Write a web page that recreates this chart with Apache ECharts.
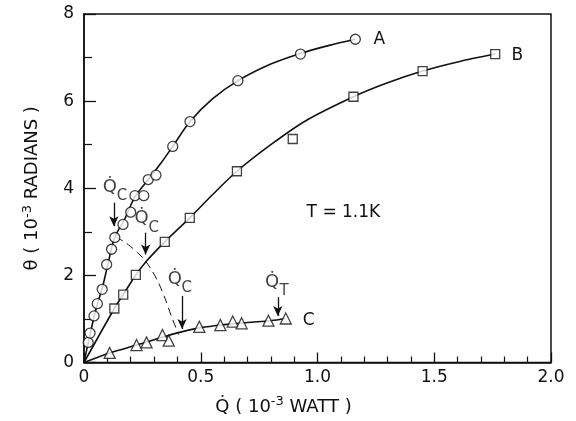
<!DOCTYPE html>
<html>
<head>
<meta charset="utf-8">
<script src="https://cdn.jsdelivr.net/npm/echarts@6/dist/echarts.min.js"></script>
<style>
  html, body { margin: 0; padding: 0; background: #fff; }
  #main { width: 576px; height: 421px; }
</style>
</head>
<body>
<div id="main"></div>
<script>
// measured points (Q in 1e-3 W, theta in 1e-3 rad)
var aQ = [0.018, 0.026, 0.043, 0.057, 0.078, 0.097, 0.118, 0.132, 0.167, 0.2, 0.218, 0.256, 0.275, 0.308, 0.38, 0.454, 0.659, 0.927, 1.162];
var aTheta = [0.46, 0.675, 1.07, 1.35, 1.68, 2.25, 2.6, 2.87, 3.17, 3.45, 3.83, 3.83, 4.2, 4.3, 4.96, 5.53, 6.47, 7.08, 7.42];
var bQ = [0.13, 0.168, 0.222, 0.346, 0.453, 0.655, 0.894, 1.154, 1.45, 1.761];
var bTheta = [1.24, 1.56, 2.01, 2.77, 3.32, 4.39, 5.13, 6.1, 6.69, 7.08];
var cQ = [0.11, 0.225, 0.268, 0.336, 0.363, 0.494, 0.584, 0.637, 0.675, 0.79, 0.864];
var cTheta = [0.22, 0.4, 0.46, 0.63, 0.5, 0.82, 0.86, 0.94, 0.9, 0.96, 1.01];

// hand drawn curves through the points
var curveAQ = [0, 0.02, 0.05, 0.08, 0.1, 0.13, 0.175, 0.218, 0.275, 0.33, 0.38, 0.454, 0.55, 0.66, 0.8, 0.93, 1.05, 1.162];
var curveATheta = [0, 0.5, 1.2, 1.75, 2.2, 2.85, 3.3, 3.8, 4.2, 4.58, 4.96, 5.53, 6.05, 6.47, 6.85, 7.1, 7.28, 7.42];
var curveBQ = [0, 0.13, 0.168, 0.222, 0.268, 0.346, 0.453, 0.55, 0.655, 0.8, 0.95, 1.154, 1.3, 1.45, 1.6, 1.761];
var curveBTheta = [0, 1.24, 1.56, 2.01, 2.33, 2.77, 3.32, 3.85, 4.39, 5.0, 5.55, 6.1, 6.42, 6.69, 6.9, 7.08];
var curveCQ = [0, 0.11, 0.225, 0.3, 0.4, 0.5, 0.6, 0.7, 0.8, 0.864];
var curveCTheta = [0, 0.22, 0.4, 0.52, 0.68, 0.8, 0.87, 0.92, 0.96, 1.01];
var dashQ = [0.135, 0.17, 0.2, 0.23, 0.26, 0.29, 0.32, 0.35, 0.375, 0.395, 0.405];
var dashTheta = [2.88, 2.78, 2.66, 2.52, 2.35, 2.12, 1.82, 1.43, 1.05, 0.78, 0.64];

// annotation arrows: x, from, to
var arrowQ = [0.128, 0.264, 0.42, 0.83];
var arrowFrom = [3.67, 2.98, 1.53, 1.5];
var arrowTo = [3.13, 2.48, 0.77, 1.07];
// Q-dot labels (centre of the Q) and their subscripts
var noteQ = [0.111, 0.247, 0.389, 0.806];
var noteTheta = [4.02, 3.30, 1.91, 1.835];
var noteSub = ['C', 'C', 'C', 'T'];

var font = 'DejaVu Sans';

function zip(xs, ys) {
    return xs.map(function (x, i) { return [x, ys[i]]; });
}

var myChart = echarts.init(document.getElementById('main'));

var curveStyle = { color: '#111', width: 1.6 };
var markStyle = { color: '#fff', borderColor: '#111', borderWidth: 1.3 };

option = {
    animation: false,
    backgroundColor: '#fff',
    grid: {
        left: 84,
        right: 25,
        top: 14,
        bottom: 57,
        show: true,
        borderColor: '#111',
        borderWidth: 1.5
    },
    xAxis: {
        type: 'value',
        min: 0,
        max: 2,
        interval: 0.5,
        name: '{t|Q\u0307 ( 10}{sup|-3}{t| WATT )}',
        nameLocation: 'middle',
        nameGap: 33,
        nameTextStyle: {
            padding: [0, 68, 0, 0],
            rich: {
                t: { fontFamily: font, fontSize: 18, color: '#111' },
                sup: { fontFamily: font, fontSize: 13, color: '#111', padding: [0, 0, 10, 0] }
            }
        },
        axisLine: { lineStyle: { color: '#111', width: 1.5 } },
        axisTick: { inside: true, length: 10, lineStyle: { color: '#111', width: 1.3 } },
        minorTick: { show: true, splitNumber: 5, length: 6, lineStyle: { color: '#111', width: 1.2 } },
        splitLine: { show: false },
        axisLabel: {
            fontFamily: font,
            fontSize: 17,
            color: '#111',
            margin: 7,
            formatter: function (v) {
                return v === 0 ? '0' : v.toFixed(1);
            }
        }
    },
    yAxis: {
        type: 'value',
        min: 0,
        max: 8,
        interval: 2,
        name: '{t|\u03b8 ( 10}{sup|-3}{t| RADIANS )}',
        nameLocation: 'middle',
        nameRotate: 90,
        nameGap: 40,
        nameTextStyle: {
            rich: {
                t: { fontFamily: font, fontSize: 18, color: '#111' },
                sup: { fontFamily: font, fontSize: 13, color: '#111', padding: [0, 0, 10, 0] }
            }
        },
        axisLine: { lineStyle: { color: '#111', width: 1.5 } },
        axisTick: { inside: true, length: 12, lineStyle: { color: '#111', width: 1.3 } },
        minorTick: { show: true, splitNumber: 2, length: 8, lineStyle: { color: '#111', width: 1.2 } },
        splitLine: { show: false },
        axisLabel: { fontFamily: font, fontSize: 17, color: '#111', margin: 10 }
    },
    series: [
        {
            name: 'curveA', type: 'line', smooth: 0.3, symbol: 'none',
            lineStyle: curveStyle, data: zip(curveAQ, curveATheta), z: 2
        },
        {
            name: 'curveB', type: 'line', smooth: 0.3, symbol: 'none',
            lineStyle: curveStyle, data: zip(curveBQ, curveBTheta), z: 2
        },
        {
            name: 'curveC', type: 'line', smooth: 0.3, symbol: 'none',
            lineStyle: curveStyle, data: zip(curveCQ, curveCTheta), z: 2
        },
        {
            name: 'dash', type: 'line', smooth: 0.3, symbol: 'none',
            lineStyle: { color: '#111', width: 1, type: [8, 5] },
            data: zip(dashQ, dashTheta), z: 2,
            markLine: {
                silent: true,
                symbol: ['none', 'arrow'],
                symbolSize: [7, 10],
                label: { show: false },
                lineStyle: { color: '#111', width: 1.3, type: 'solid' },
                data: arrowQ.map(function (q, i) {
                    return [{ coord: [q, arrowFrom[i]] }, { coord: [q, arrowTo[i]] }];
                })
            }
        },
        {
            name: 'A', type: 'scatter', symbol: 'circle', symbolSize: 10,
            itemStyle: markStyle, data: zip(aQ, aTheta), z: 5,
            markPoint: {
                symbol: 'circle', symbolSize: 0,
                label: { show: true, formatter: 'A', fontFamily: font, fontSize: 17, color: '#111' },
                data: [{ coord: [1.265, 7.42] }]
            }
        },
        {
            name: 'B', type: 'scatter', symbol: 'rect', symbolSize: 9,
            itemStyle: markStyle, data: zip(bQ, bTheta), z: 5,
            markPoint: {
                symbol: 'circle', symbolSize: 0,
                label: { show: true, formatter: 'B', fontFamily: font, fontSize: 17, color: '#111' },
                data: [{ coord: [1.856, 7.04] }]
            }
        },
        {
            name: 'C', type: 'scatter', symbol: 'triangle', symbolSize: 11,
            itemStyle: markStyle, data: zip(cQ, cTheta), z: 5,
            markPoint: {
                symbol: 'circle', symbolSize: 0,
                label: { show: true, formatter: 'C', fontFamily: font, fontSize: 17, color: '#111' },
                data: [{ coord: [0.962, 0.96] }]
            }
        },
        {
            name: 'notes', type: 'scatter', symbolSize: 0, silent: true, z: 6,
            itemStyle: { color: '#111' },
            data: zip(noteQ, noteTheta),
            label: {
                show: true,
                position: 'inside',
                formatter: 'Q\u0307',
                fontFamily: font,
                fontSize: 18,
                color: '#111',
                textBorderWidth: 0
            },
            markPoint: {
                symbol: 'circle', symbolSize: 0,
                label: { show: true, formatter: 'T = 1.1K', fontFamily: font, fontSize: 17, color: '#111' },
                data: [{ coord: [1.111, 3.44] }]
            }
        },
        {
            name: 'noteSubs', type: 'scatter', symbolSize: 0, silent: true, z: 6,
            itemStyle: { color: '#111' },
            data: zip(noteQ, noteTheta),
            label: {
                show: true,
                position: 'inside',
                offset: [12, 9],
                formatter: function (p) {
                    return noteSub[p.dataIndex];
                },
                fontFamily: font,
                fontSize: 15,
                color: '#111',
                textBorderWidth: 0
            }
        }
    ]
};

myChart.setOption(option);
</script>
</body>
</html>
